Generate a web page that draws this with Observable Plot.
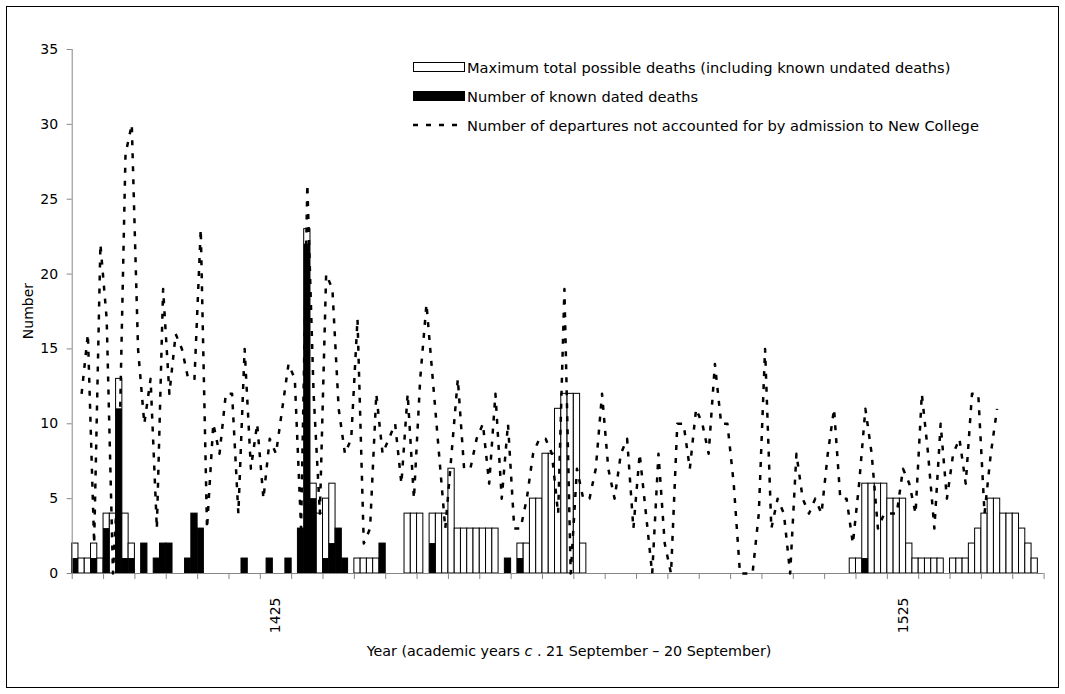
<!DOCTYPE html>
<html>
<head>
<meta charset="utf-8">
<script src="https://cdn.jsdelivr.net/npm/d3@7"></script>
<script src="https://cdn.jsdelivr.net/npm/@observablehq/plot@0.6"></script>
<style>
  body { margin: 0; background: white; }
  #wrap { position: relative; width: 1065px; height: 694px; font-family: "DejaVu Sans", sans-serif; font-size: 14px; color: #000; }
  #wrap svg { position: absolute; left: 0; top: 0; }
  .abs { position: absolute; white-space: nowrap; }
  .row { position: absolute; left: 413px; height: 20px; display: flex; align-items: center; font-size: 14.6px; }
  .sw { width: 52px; height: 10px; box-sizing: border-box; margin-right: 2px; }
</style>
</head>
<body>
<div id="wrap">
  <div class="row" style="top:57px"><div class="sw" style="background:#fff;border:1px solid #000"></div><span>Maximum total possible deaths (including known undated deaths)</span></div>
  <div class="row" style="top:86px"><div class="sw" style="background:#000"></div><span>Number of known dated deaths</span></div>
  <div class="row" style="top:115px"><svg width="54" height="6" style="position:static;margin-right:0"><line x1="0" y1="3" x2="52" y2="3" stroke="#000" stroke-width="2.5" stroke-dasharray="5,8"/></svg><span>Number of departures not accounted for by admission to New College</span></div>
  <div class="abs" style="left:569px;top:643px;transform:translateX(-50%);font-size:14.3px">Year (academic years <i>c</i> . 21 September &#8211; 20 September)</div>
  <div class="abs" style="left:28px;top:311px;transform:translate(-50%,-50%) rotate(-90deg)">Number</div>
  <div class="abs" style="left:6px;top:6px;width:1051px;height:680px;border:1px solid #000"></div>
</div>
<script>
// Academic years (category axis)
const years = d3.range(1393, 1548);
const labelYears = [1425, 1525];
const yTicks = [0, 5, 10, 15, 20, 25, 30, 35];

// Maximum total possible deaths (including known undated deaths)
const maxDeaths = [
  2,1,1,2,1,4,4,13,4,2,
  0,2,0,1,2,2,0,0,1,4,
  3,0,0,0,0,0,0,1,0,0,
  0,1,0,0,1,0,3,23,6,4,
  5,6,3,1,0,1,1,1,1,2,
  0,0,0,4,4,4,0,4,4,4,
  7,3,3,3,3,3,3,3,0,1,
  0,2,2,5,5,8,8,11,12,12,
  12,2,0,0,0,0,0,0,0,0,
  0,0,0,0,0,0,0,0,0,0,
  0,0,0,0,0,0,0,0,0,0,
  0,0,0,0,0,0,0,0,0,0,
  0,0,0,0,1,1,6,6,6,6,
  5,5,5,2,1,1,1,1,1,0,
  1,1,1,2,3,4,5,5,4,4,
  4,3,2,1,0
];

// Number of known dated deaths
const knownDeaths = [
  1,0,0,1,0,3,0,11,1,1,
  0,2,0,1,2,2,0,0,1,4,
  3,0,0,0,0,0,0,1,0,0,
  0,1,0,0,1,0,3,22,5,0,
  1,2,3,1,0,0,0,0,0,2,
  0,0,0,0,0,0,0,2,0,0,
  0,0,0,0,0,0,0,0,0,1,
  0,1,0,0,0,0,0,0,0,0,
  0,0,0,0,0,0,0,0,0,0,
  0,0,0,0,0,0,0,0,0,0,
  0,0,0,0,0,0,0,0,0,0,
  0,0,0,0,0,0,0,0,0,0,
  0,0,0,0,0,0,1,0,0,0,
  0,0,0,0,0,0,0,0,0,0,
  0,0,0,0,0,0,0,0,0,0,
  0,0,0,0,0
];

// Number of departures not accounted for by admission to New College
const departures = [
  null,12,16,2,22,17,0,8,28,30,
  15,10,13,3,19,12,16,15,13,13,
  23,3,10,8,12,12,4,15,7,10,
  5,9,8,11,14,13,3,26,12,4,
  20,19,11,8,9,17,2,3,12,8,
  9,10,6,12,5,13,18,13,8,3,
  8,13,7,7,9,10,6,12,5,10,
  3,3,5,8,9,9,8,4,19,0,
  7,5,5,7,12,7,5,8,9,3,
  8,4,0,8,2,0,10,10,7,11,
  10,8,14,10,10,6,0,0,0,4,
  15,3,5,4,0,8,5,4,5,4,
  8,11,5,5,2,6,11,8,3,4,
  4,4,7,6,4,12,8,3,10,5,
  8,9,6,12,12,4,8,11,null,null,
  null,null,null,null,null
];

const data = years.map((year, i) => ({year, max: maxDeaths[i], known: knownDeaths[i], dep: departures[i]}));
const x0 = years[0] - 0.5, x1 = years[years.length - 1] + 0.5;
const boundaryTicks = d3.range(0, years.length + 1, 5).map(i => x0 + i);
const axisGray = "#868686";

const chart = Plot.plot({
  width: 1065,
  height: 694,
  marginLeft: 71.7,
  marginRight: 21.4,
  marginTop: 49,
  marginBottom: 121,
  x: {domain: [x0, x1], axis: null},
  y: {domain: [0, 35], axis: null},
  style: {fontFamily: "DejaVu Sans, sans-serif", fontSize: "14px", color: "#000", background: "transparent", overflow: "visible"},
  marks: [
    Plot.rect(data.filter(d => d.max > 0), {x1: d => d.year - 0.5, x2: d => d.year + 0.5, y1: d => 0, y2: "max", fill: "white", stroke: "black", strokeWidth: 1}),
    Plot.rect(data.filter(d => d.known > 0), {x1: d => d.year - 0.5, x2: d => d.year + 0.5, y1: d => 0, y2: "known", fill: "black"}),
    Plot.ruleY([0], {stroke: axisGray}),
    Plot.ruleX([x0], {stroke: axisGray}),
    Plot.axisY({ticks: yTicks, tickSize: 5, tickPadding: 9, stroke: axisGray, fill: "#000", label: null}),
    Plot.axisX({ticks: boundaryTicks, tickSize: 6, tickFormat: () => "", stroke: axisGray, label: null}),
    Plot.axisX({ticks: labelYears, tickSize: 0, tickRotate: -90, tickPadding: 24, tickFormat: d => String(d), fill: "#000", label: null}),
    Plot.line(data.filter(d => d.dep != null), {x: "year", y: "dep", stroke: "black", strokeWidth: 2.5, strokeDasharray: "5,8", strokeLinecap: "butt"})
  ]
});
document.getElementById("wrap").prepend(chart);
</script>
</body>
</html>
